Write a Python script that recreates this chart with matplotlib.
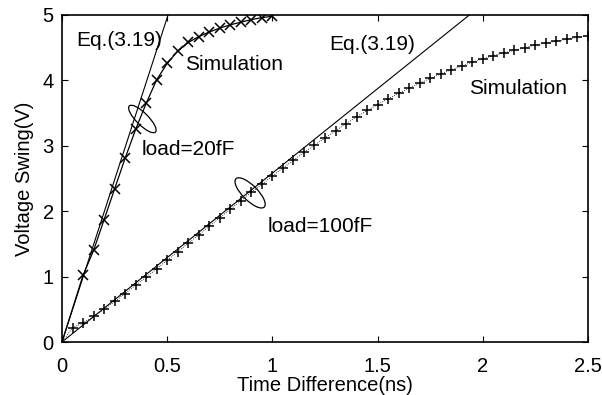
import matplotlib
matplotlib.use("Agg")
import matplotlib.pyplot as plt
import numpy as np
from matplotlib.patches import Ellipse
from matplotlib.transforms import ScaledTranslation

plt.rcParams['font.family'] = ['Liberation Sans', 'DejaVu Sans']

# Simulation, load = 20fF
t20 = [0.0, 0.10, 0.15, 0.20, 0.25, 0.30, 0.35, 0.40, 0.45, 0.50, 0.55,
       0.60, 0.65, 0.70, 0.75, 0.80, 0.85, 0.90, 0.95, 1.00]
v20 = [0.0, 1.02, 1.40, 1.87, 2.34, 2.81, 3.25, 3.65, 4.01, 4.26, 4.45,
       4.58, 4.67, 4.74, 4.80, 4.85, 4.89, 4.93, 4.96, 4.98]

# Simulation, load = 100fF
t100 = [0.0, 0.05, 0.10, 0.15, 0.20, 0.25, 0.30, 0.35, 0.40, 0.45, 0.50,
        0.55, 0.60, 0.65, 0.70, 0.75, 0.80, 0.85, 0.90, 0.95, 1.00,
        1.05, 1.10, 1.15, 1.20, 1.25, 1.30, 1.35, 1.40, 1.45, 1.50,
        1.55, 1.60, 1.65, 1.70, 1.75, 1.80, 1.85, 1.90, 1.95, 2.00,
        2.05, 2.10, 2.15, 2.20, 2.25, 2.30, 2.35, 2.40, 2.45, 2.50]
v100 = [0.0, 0.22, 0.29, 0.39, 0.50, 0.62, 0.74, 0.87, 0.99, 1.12, 1.25,
        1.38, 1.51, 1.64, 1.77, 1.90, 2.03, 2.16, 2.29, 2.41, 2.54,
        2.66, 2.78, 2.90, 3.01, 3.12, 3.23, 3.34, 3.44, 3.54, 3.63,
        3.72, 3.80, 3.88, 3.96, 4.03, 4.10, 4.16, 4.22, 4.28, 4.33,
        4.38, 4.42, 4.46, 4.50, 4.54, 4.57, 4.60, 4.63, 4.66, 4.68]

# Eq.(3.19) straight lines (t, V end points)
eq20_t = [0.0, 0.504]
eq20_v = [0.0, 5.0]
eq100_t = [0.0, 1.936]
eq100_v = [0.0, 5.0]

xticks = [0, 0.5, 1, 1.5, 2, 2.5]
xticklabels = ['0', '0.5', '1', '1.5', '2', '2.5']
yticks = [0, 1, 2, 3, 4, 5]

fig = plt.figure(figsize=(6.02, 3.95), dpi=100)
ax = fig.add_axes([62/602, 1-342/395, (588-62)/602, (342-15)/395])

ax.plot(eq20_t, eq20_v, color='black', lw=0.8)
ax.plot(eq100_t, eq100_v, color='black', lw=0.8)
ax.plot(t20, v20, color='black', lw=0.9, marker='x', ms=6.5, mew=1.1,
        markevery=slice(1, None))
ax.plot(t100, v100, color='black', lw=0.6, ls=':', marker='+', ms=7, mew=1.1,
        markevery=slice(1, None))

fs = 15
ax.text(0.07, 4.61, 'Eq.(3.19)', fontsize=fs, va='center', ha='left')
ax.text(0.585, 4.24, 'Simulation', fontsize=fs, va='center', ha='left')
ax.text(0.38, 2.95, 'load=20fF', fontsize=fs, va='center', ha='left')
ax.text(1.269, 4.55, 'Eq.(3.19)', fontsize=fs, va='center', ha='left')
ax.text(1.934, 3.87, 'Simulation', fontsize=fs, va='center', ha='left')
ax.text(0.979, 1.77, 'load=100fF', fontsize=fs, va='center', ha='left')

def ell(x, y, w, h, ang):
    tr = fig.dpi_scale_trans + ScaledTranslation(x, y, ax.transData)
    ax.add_patch(Ellipse((0, 0), w / 100, h / 100, angle=ang, transform=tr,
                         fill=False, ec='black', lw=0.9, clip_on=False))

ell(0.382, 3.41, 37, 12, -45)
ell(0.894, 2.28, 40, 15, -45)

ax.set_xlim(0, 2.5)
ax.set_ylim(0, 5)
ax.set_xticks(xticks)
ax.set_xticklabels(xticklabels)
ax.set_yticks(yticks)
ax.tick_params(direction='in', length=4, width=0.8, top=True, right=True,
               labelsize=14.5, pad=11)
ax.tick_params(axis='y', pad=6)
for s in ax.spines.values():
    s.set_linewidth(1.2)
ax.set_xlabel('Time Difference(ns)', fontsize=14.5, labelpad=0)
ax.set_ylabel('Voltage Swing(V)', fontsize=14.5, labelpad=6)

fig.savefig('out.png', dpi=100)
